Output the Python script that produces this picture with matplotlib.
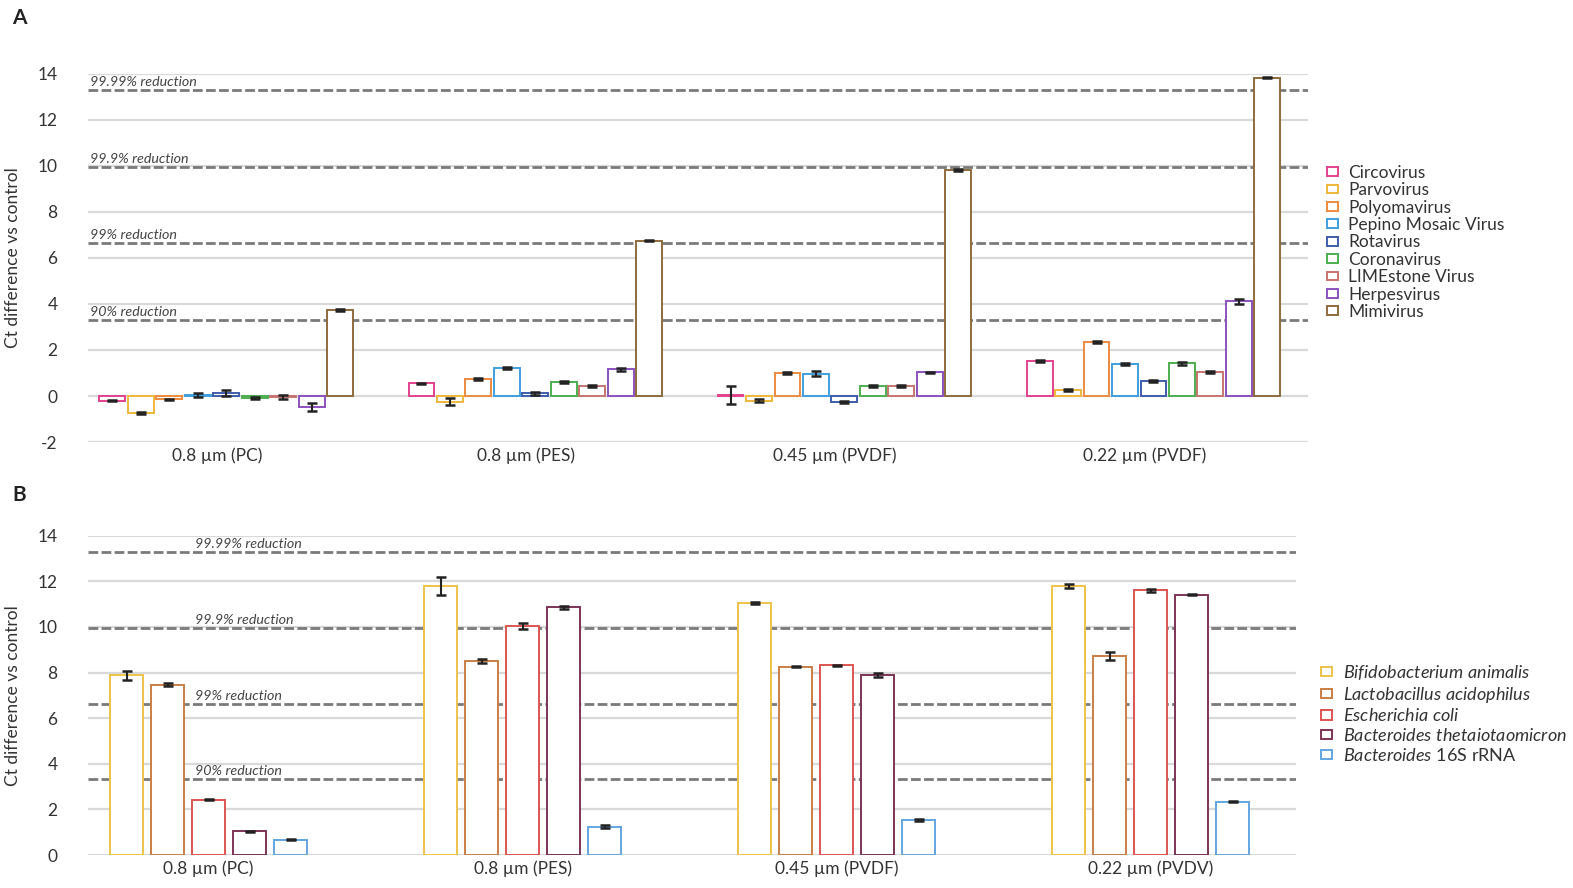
import matplotlib
matplotlib.use("Agg")
import matplotlib.pyplot as plt
import numpy as np
from matplotlib.patches import Patch
import matplotlib.transforms as mtransforms

plt.rcParams['font.family'] = ['Lato', 'DejaVu Sans']
plt.rcParams['mathtext.fontset'] = 'custom'
plt.rcParams['mathtext.it'] = 'Lato:italic'
plt.rcParams['mathtext.rm'] = 'Lato'
plt.rcParams['axes.unicode_minus'] = False

# ---------------- Data ----------------
groups_a = ["0.8 µm (PC)", "0.8 µm (PES)", "0.45 µm (PVDF)", "0.22 µm (PVDF)"]
viruses = ["Circovirus", "Parvovirus", "Polyomavirus", "Pepino Mosaic Virus", "Rotavirus",
           "Coronavirus", "LIMEstone Virus", "Herpesvirus", "Mimivirus"]
virus_colors = ["#E4428E", "#EDB83C", "#EE8A3F", "#3E9FDF", "#3F5DAB",
                "#4DAE4F", "#C87470", "#8C52BE", "#8E6B3C"]
# values per virus across the 4 filters
circovirus = [-0.20, 0.55, 0.05, 1.52]
parvovirus = [-0.75, -0.25, -0.20, 0.26]
polyomavirus = [-0.15, 0.73, 0.99, 2.35]
pepino = [0.05, 1.23, 0.97, 1.39]
rotavirus = [0.13, 0.12, -0.27, 0.67]
coronavirus = [-0.08, 0.61, 0.42, 1.42]
limestone = [-0.05, 0.43, 0.42, 1.03]
herpesvirus = [-0.48, 1.16, 1.04, 4.12]
mimivirus = [3.75, 6.75, 9.83, 13.84]
values_a = [circovirus, parvovirus, polyomavirus, pepino, rotavirus,
            coronavirus, limestone, herpesvirus, mimivirus]
err_circovirus = [0.03, 0.03, 0.38, 0.05]
err_parvovirus = [0.05, 0.15, 0.05, 0.03]
err_polyomavirus = [0.03, 0.05, 0.04, 0.03]
err_pepino = [0.10, 0.05, 0.12, 0.03]
err_rotavirus = [0.15, 0.07, 0.05, 0.04]
err_coronavirus = [0.03, 0.05, 0.05, 0.07]
err_limestone = [0.10, 0.04, 0.05, 0.04]
err_herpesvirus = [0.18, 0.07, 0.02, 0.10]
err_mimivirus = [0.05, 0.03, 0.06, 0.03]
errors_a = [err_circovirus, err_parvovirus, err_polyomavirus, err_pepino, err_rotavirus,
            err_coronavirus, err_limestone, err_herpesvirus, err_mimivirus]

groups_b = ["0.8 µm (PC)", "0.8 µm (PES)", "0.45 µm (PVDF)", "0.22 µm (PVDV)"]
bacteria = [r"$\it{Bifidobacterium\ animalis}$", r"$\it{Lactobacillus\ acidophilus}$",
            r"$\it{Escherichia\ coli}$", r"$\it{Bacteroides\ thetaiotaomicron}$",
            r"$\it{Bacteroides}$ 16S rRNA"]
bacteria_colors = ["#EEC24A", "#C97E45", "#DE5552", "#7E3457", "#62A6DF"]
bifido = [7.88, 11.80, 11.05, 11.80]
lacto = [7.47, 8.49, 8.26, 8.74]
ecoli = [2.43, 10.04, 8.32, 11.61]
bthet = [1.04, 10.86, 7.89, 11.41]
bact16s = [0.67, 1.24, 1.55, 2.34]
values_b = [bifido, lacto, ecoli, bthet, bact16s]
err_bifido = [0.20, 0.38, 0.04, 0.08]
err_lacto = [0.06, 0.09, 0.03, 0.18]
err_ecoli = [0.03, 0.12, 0.03, 0.06]
err_bthet = [0.02, 0.07, 0.08, 0.02]
err_16s = [0.02, 0.07, 0.05, 0.03]
errors_b = [err_bifido, err_lacto, err_ecoli, err_bthet, err_16s]

reduction_levels = [3.32, 6.64, 9.97, 13.29]
reduction_labels = ["90% reduction", "99% reduction", "99.9% reduction", "99.99% reduction"]

# ---------------- Figure ----------------
fig = plt.figure(figsize=(15.73, 8.88), dpi=100)
W, H = 1573, 888

def ax_at(l, t, r, b):
    return fig.add_axes([l / W, 1 - b / H, (r - l) / W, (b - t) / H])

axA = ax_at(88, 74, 1308, 442)
axB = ax_at(88, 535.7, 1296, 855)

grid_color = "#D9D9D9"
red_color = "#7A7A7A"

def style_axis(ax, ylim, yticks):
    ax.set_ylim(*ylim)
    ax.set_yticks(yticks)
    for s in ax.spines.values():
        s.set_visible(False)
    for y in yticks:
        ax.axhline(y, color=grid_color, lw=1.6, zorder=0)
    ax.tick_params(axis='y', length=0, pad=22, labelsize=12.5, labelcolor="#333333")
    ax.tick_params(axis='x', length=0, pad=4, labelsize=12.5, labelcolor="#333333")
    ax.set_ylabel("Ct difference vs control", fontsize=12.5, color="#333333", labelpad=12)

def draw_reductions(ax, xfrac):
    trans = mtransforms.blended_transform_factory(ax.transAxes, ax.transData)
    for lvl, lab in zip(reduction_levels, reduction_labels):
        ax.axhline(lvl, color=red_color, lw=2.0, ls=(0, (3.5, 1.2)), zorder=1)
        ax.text(xfrac, lvl + 0.08, lab, transform=trans, fontsize=10.3, style='italic',
                color="#444444", ha='left', va='bottom', zorder=1)

# Panel A
style_axis(axA, (-2, 14), list(range(-2, 15, 2)))
axA.set_xlim(-0.448, 3.50)
draw_reductions(axA, 0.002)
pitch_a, width_a = 0.0922, 0.084
x = np.arange(len(groups_a))
for j, (vals, errs, col) in enumerate(zip(values_a, errors_a, virus_colors)):
    pos = x + (j - 4) * pitch_a
    axA.bar(pos, vals, width=width_a, facecolor="white", edgecolor=col, lw=1.4, zorder=3)
    axA.errorbar(pos, vals, yerr=errs, fmt='none', ecolor="#222222", elinewidth=1.5,
                 capsize=3.5, capthick=1.8, zorder=4)
axA.set_xticks(x - 0.03)
axA.set_xticklabels(groups_a)
handles_a = [Patch(facecolor="white", edgecolor=c, lw=1.4, label=n) for n, c in zip(viruses, virus_colors)]
axA.legend(handles=handles_a, loc='upper left', bbox_to_anchor=(1.010, 0.772), frameon=False,
           fontsize=12.5, handlelength=0.6, handleheight=0.4, handletextpad=0.6,
           labelspacing=0.08, borderaxespad=0, labelcolor="#333333")

# Panel B
style_axis(axB, (0, 14), list(range(0, 15, 2)))
axB.set_xlim(-0.384, 3.463)
draw_reductions(axB, 0.0886)
pitch_b, width_b = 0.1306, 0.105
x = np.arange(len(groups_b))
for j, (vals, errs, col) in enumerate(zip(values_b, errors_b, bacteria_colors)):
    pos = x + (j - 2) * pitch_b
    axB.bar(pos, vals, width=width_b, facecolor="white", edgecolor=col, lw=1.4, zorder=3)
    axB.errorbar(pos, vals, yerr=errs, fmt='none', ecolor="#222222", elinewidth=1.5,
                 capsize=3.5, capthick=1.8, zorder=4)
axB.set_xticks(x)
axB.set_xticklabels(groups_b)
handles_b = [Patch(facecolor="white", edgecolor=c, lw=1.4, label=n) for n, c in zip(bacteria, bacteria_colors)]
axB.legend(handles=handles_b, loc='upper left', bbox_to_anchor=(1.015, 0.625), frameon=False,
           fontsize=13, handlelength=0.6, handleheight=0.4, handletextpad=0.6,
           labelspacing=0.16, borderaxespad=0, labelcolor="#333333")

fig.text(12 / W, 1 - 18 / H, "A", fontsize=15, fontweight='bold', va='center', color="#222222")
fig.text(12 / W, 1 - 495 / H, "B", fontsize=15, fontweight='bold', va='center', color="#222222")

fig.savefig("out.png", dpi=100)
